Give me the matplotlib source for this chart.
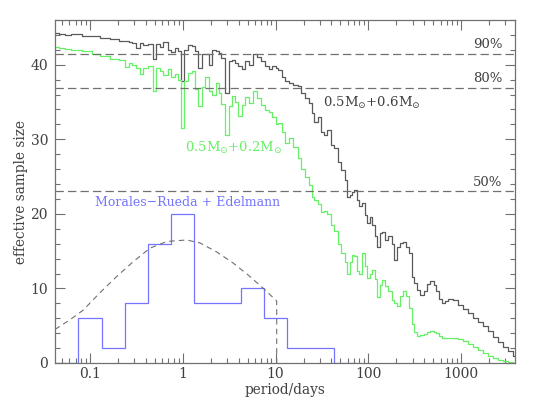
import numpy as np
import matplotlib
matplotlib.use("Agg")
import matplotlib.pyplot as plt
from matplotlib.ticker import FixedLocator, MultipleLocator, NullFormatter

plt.rcParams['font.family'] = ['DejaVu Serif']
plt.rcParams['mathtext.fontset'] = 'dejavuserif'
plt.rcParams['lines.scale_dashes'] = False

# ---------------- data ----------------
log_period = [
    -1.377, -1.302, -1.248, -1.162, -1.022, -0.946, -0.838, -0.731, -0.655, -0.601,
    -0.569, -0.526, -0.483, -0.450, -0.407, -0.353, -0.300, -0.267, -0.224, -0.192,
    -0.138, -0.106, -0.063, -0.030, 0.002, 0.034, 0.078, 0.110, 0.153, 0.185,
    0.218, 0.261, 0.293, 0.336, 0.369, 0.401, 0.433, 0.476, 0.509, 0.541,
    0.584, 0.616, 0.649, 0.692, 0.735, 0.778, 0.821, 0.864, 0.907, 0.940,
    0.983, 1.015, 1.047, 1.080, 1.123, 1.155, 1.209, 1.263, 1.295, 1.338,
    1.371, 1.403, 1.435, 1.468, 1.500, 1.543, 1.575, 1.608, 1.651, 1.694,
    1.726, 1.759, 1.780, 1.813, 1.834, 1.856, 1.888, 1.910, 1.942, 1.974,
    1.996, 2.028, 2.050, 2.082, 2.103, 2.136, 2.157, 2.190, 2.233, 2.265,
    2.287, 2.319, 2.351, 2.384, 2.416, 2.448, 2.481, 2.502, 2.535, 2.578,
    2.610, 2.642, 2.685, 2.718, 2.739, 2.772, 2.804, 2.836, 2.879, 2.933,
    2.987, 3.041, 3.095, 3.149, 3.203, 3.257, 3.310, 3.364, 3.418, 3.472,
    3.526, 3.580,
]

size_06 = [
    44.2, 44.1, 44.0, 44.1, 43.9, 43.8, 43.6, 43.4, 43.2, 43.2,
    43.0, 42.9, 42.2, 42.9, 42.6, 42.8, 40.8, 42.8, 42.4, 43.0,
    42.0, 41.7, 42.3, 41.8, 37.8, 42.0, 42.7, 42.5, 41.8, 39.6,
    41.4, 41.4, 40.0, 42.0, 41.9, 41.6, 40.9, 36.2, 40.5, 40.7,
    40.3, 39.8, 39.4, 40.5, 40.0, 41.4, 41.0, 40.5, 39.8, 39.4,
    39.8, 39.6, 39.3, 38.4, 37.8, 37.6, 37.3, 37.1, 36.2, 35.6,
    34.9, 33.5, 32.3, 33.0, 31.0, 30.6, 31.3, 29.3, 28.8, 27.0,
    25.9, 24.6, 22.3, 22.5, 23.0, 23.2, 21.8, 21.0, 21.5, 19.8,
    18.8, 19.6, 18.5, 17.0, 15.5, 17.5, 17.6, 16.5, 17.0, 16.0,
    13.8, 15.5, 16.1, 16.2, 15.5, 14.8, 11.5, 10.7, 9.8, 9.1,
    9.6, 10.6, 11.0, 10.4, 9.6, 8.6, 8.0, 8.3, 8.6, 8.4,
    7.8, 7.2, 6.7, 6.1, 5.5, 4.9, 4.3, 3.5, 2.8, 2.2,
    1.6, 1.0,
]

size_02 = [
    42.4, 42.3, 42.1, 42.0, 41.9, 41.5, 41.2, 40.8, 40.6, 39.7,
    40.3, 39.9, 39.6, 38.7, 39.6, 39.8, 36.5, 39.6, 39.2, 38.6,
    39.4, 38.3, 38.8, 38.0, 31.5, 37.8, 38.9, 39.2, 36.8, 34.4,
    37.0, 38.3, 36.5, 36.0, 37.6, 36.2, 34.7, 30.6, 34.5, 35.8,
    35.0, 33.1, 34.6, 35.7, 34.9, 36.5, 35.6, 34.6, 33.9, 33.6,
    33.0, 32.0, 32.2, 31.0, 29.5, 30.2, 29.0, 27.5, 26.0, 25.0,
    23.9, 22.3, 21.8, 21.3, 20.3, 20.4, 20.0, 18.5, 17.7, 16.0,
    14.8, 13.5, 12.0, 13.5, 14.5, 14.3, 12.3, 12.0, 14.8, 13.0,
    11.4, 12.0, 12.5, 11.2, 8.9, 10.5, 11.1, 10.3, 9.6, 8.5,
    8.0, 7.6, 9.0, 9.7, 9.0, 7.4, 5.2, 4.2, 3.6, 3.8,
    3.9, 4.1, 4.3, 4.2, 4.0, 3.6, 3.4, 3.4, 3.35, 3.4,
    3.2, 2.9, 2.6, 2.2, 1.8, 1.4, 1.0, 0.7, 0.4, 0.25,
    0.1, 0.05,
]

# observed sample histogram (log10 period bin edges)
hist_log_edges = [-1.375, -1.125, -0.875, -0.625, -0.375, -0.125, 0.125,
                  0.375, 0.625, 0.875, 1.125, 1.375, 1.625, 1.875]
hist_counts = [0, 6, 2, 8, 16, 20, 8, 8, 10, 6, 2, 2, 0]

# fitted distribution (dashed)
fit_log_period = [-1.377, -1.215, -1.072, -0.894, -0.712, -0.533, -0.353, -0.173,
                  0.042, 0.185, 0.365, 0.544, 0.724, 0.904, 1.012, 1.012]
fit_size = [4.5, 5.8, 7.1, 9.4, 11.6, 13.6, 15.4, 16.3,
            16.5, 16.1, 14.9, 13.4, 11.6, 9.6, 8.3, 0.0]

# completeness levels
level_values = [41.5, 36.9, 23.05]
level_labels = ['90%', '80%', '50%']

x_ticks = [0.1, 1, 10, 100, 1000]
x_ticklabels = ['0.1', '1', '10', '100', '1000']
y_ticks = [0, 10, 20, 30, 40]

# ---------------- plot ----------------
W, H = 547, 409
fig = plt.figure(figsize=(W / 100, H / 100), dpi=100)
ax = fig.add_axes([55 / W, (H - 363) / H, (515 - 55) / W, (363 - 20) / H])

frame_col = '#707070'
text_col = '#404040'
black_col = '#5a5a5a'
green_col = '#66f066'
blue_col = '#7474ff'
dash_col = '#707070'

period = 10 ** np.array(log_period)
ax.plot(period, size_06, drawstyle='steps-mid', color=black_col, lw=0.9)
ax.plot(period, size_02, drawstyle='steps-mid', color=green_col, lw=0.9)

ax.stairs(hist_counts, 10 ** np.array(hist_log_edges), color=blue_col, lw=0.9)

ax.plot(10 ** np.array(fit_log_period), fit_size, color=dash_col, lw=0.8,
        dashes=(4, 3))

for v, lab in zip(level_values, level_labels):
    ax.axhline(v, color=dash_col, lw=0.9, dashes=(6, 3))
    ax.text(2800, v + 1.2, lab, color=text_col, fontsize=9.5,
            ha='right', va='center')

ax.text(32.5, 34.9, r'0.5M$_{\odot}$+0.6M$_{\odot}$', color=text_col,
        fontsize=9.5, ha='left', va='center')
ax.text(1.056, 28.9, r'0.5M$_{\odot}$+0.2M$_{\odot}$', color=green_col,
        fontsize=9.5, ha='left', va='center')
ax.text(0.113, 21.5, 'Morales\u2212Rueda + Edelmann', color=blue_col,
        fontsize=9, ha='left', va='center')

ax.set_xscale('log')
ax.set_xlim(0.042, 3800)
ax.set_ylim(0, 46)

ax.xaxis.set_major_locator(FixedLocator(x_ticks))
ax.set_xticklabels(x_ticklabels)
ax.xaxis.set_minor_locator(FixedLocator(
    [m * 10.0 ** e for e in range(-2, 4) for m in range(2, 10)]))
ax.xaxis.set_minor_formatter(NullFormatter())
ax.yaxis.set_major_locator(FixedLocator(y_ticks))
ax.yaxis.set_minor_locator(MultipleLocator(2))

ax.tick_params(which='both', direction='in', top=True, right=True,
               color=frame_col, labelcolor=text_col, labelsize=10)
ax.tick_params(which='major', length=7, width=0.8)
ax.tick_params(axis='x', which='major', pad=3)
ax.tick_params(axis='y', which='major', pad=5)
ax.tick_params(which='minor', length=3.5, width=0.8)
for s in ax.spines.values():
    s.set_color(frame_col)
    s.set_linewidth(0.9)

ax.set_xlabel('period/days', color=text_col, fontsize=9.8, labelpad=1)
ax.set_ylabel('effective sample size', color=text_col, fontsize=9.8,
              labelpad=2)

fig.savefig('out.png', dpi=100)
